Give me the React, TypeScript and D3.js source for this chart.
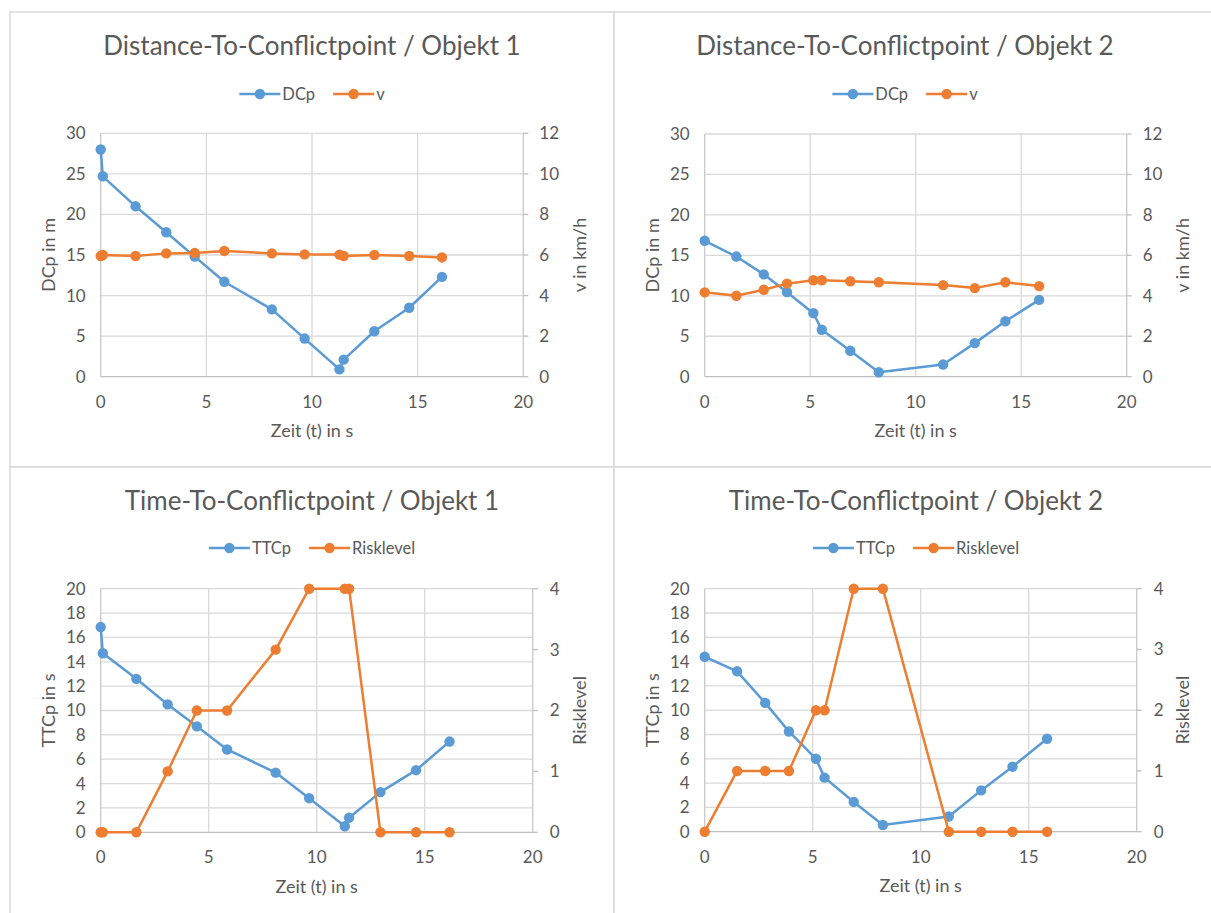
import React, { useEffect, useRef } from 'react';
import * as d3 from 'd3';

// Objekt 1
const time1 = [0, 0.1, 1.65, 3.1, 4.45, 5.85, 8.1, 9.65, 11.3, 11.5, 12.95, 14.6, 16.15];
const dcp1 = [28.0, 24.7, 21.0, 17.8, 14.8, 11.7, 8.3, 4.7, 0.9, 2.1, 5.6, 8.5, 12.3];
const speed1 = [5.95, 6.0, 5.95, 6.08, 6.1, 6.2, 6.08, 6.03, 6.02, 5.95, 6.0, 5.95, 5.88];
const ttcp1 = [16.85, 14.7, 12.6, 10.5, 8.7, 6.8, 4.9, 2.8, 0.5, 1.2, 3.3, 5.1, 7.45];
const risk1 = [0, 0, 0, 1, 2, 2, 3, 4, 4, 4, 0, 0, 0];

// Objekt 2
const time2 = [0, 1.5, 2.8, 3.9, 5.15, 5.55, 6.9, 8.25, 11.3, 12.8, 14.25, 15.85];
const dcp2 = [16.8, 14.85, 12.65, 10.45, 7.85, 5.8, 3.2, 0.55, 1.5, 4.15, 6.85, 9.5];
const speed2 = [4.17, 4.0, 4.3, 4.6, 4.77, 4.77, 4.72, 4.67, 4.53, 4.38, 4.67, 4.48];
const ttcp2 = [14.4, 13.2, 10.6, 8.25, 6.0, 4.45, 2.45, 0.55, 1.25, 3.4, 5.35, 7.65];
const risk2 = [0, 1, 1, 1, 2, 2, 4, 4, 0, 0, 0, 0];

// ticks
const xTicks = [0, 5, 10, 15, 20];
const dcpTicks = [0, 5, 10, 15, 20, 25, 30];
const speedTicks = [0, 2, 4, 6, 8, 10, 12];
const ttcpTicks = [0, 2, 4, 6, 8, 10, 12, 14, 16, 18, 20];
const riskTicks = [0, 1, 2, 3, 4];

const BLUE = '#5b9bd5';
const ORANGE = '#ed7d31';
const GRID = '#d9d9d9';
const TEXT = '#595959';
const FONT = 'Lato, "Open Sans", sans-serif';

function drawPanel(svg, p) {
  const g = svg.append('g');

  // frame
  g.append('rect')
    .attr('x', p.box[0]).attr('y', p.box[1])
    .attr('width', p.box[2]).attr('height', p.box[3])
    .attr('fill', '#fff').attr('stroke', GRID).attr('stroke-width', 1.5);

  const x = d3.scaleLinear().domain([0, 20]).range([p.left, p.right]);
  const yL = d3.scaleLinear().domain([0, d3.max(p.leftTicks)]).range([p.bottom, p.top]);
  const yR = d3.scaleLinear().domain([0, d3.max(p.rightTicks)]).range([p.bottom, p.top]);

  // gridlines
  g.append('g').selectAll('line.h').data(p.leftTicks.slice(1)).enter().append('line')
    .attr('x1', p.left).attr('x2', p.right)
    .attr('y1', d => yL(d)).attr('y2', d => yL(d))
    .attr('stroke', GRID).attr('stroke-width', 1.3);
  g.append('g').selectAll('line.v').data(xTicks).enter().append('line')
    .attr('x1', d => x(d)).attr('x2', d => x(d))
    .attr('y1', p.top).attr('y2', p.bottom)
    .attr('stroke', d => (d === 0 || d === 20 ? '#c8c8c8' : GRID)).attr('stroke-width', 1.3);

  // x axis line
  g.append('line')
    .attr('x1', p.left).attr('x2', p.right)
    .attr('y1', p.bottom).attr('y2', p.bottom)
    .attr('stroke', '#bfbfbf').attr('stroke-width', 1.3);

  // right axis ticks
  g.append('g').selectAll('line').data(p.rightTicks).enter().append('line')
    .attr('x1', p.right).attr('x2', p.right + 5)
    .attr('y1', d => yR(d)).attr('y2', d => yR(d))
    .attr('stroke', '#bfbfbf').attr('stroke-width', 1.3);

  const txt = (sel) => sel.attr('fill', TEXT).attr('font-family', FONT);

  // tick labels
  g.append('g').selectAll('text').data(p.leftTicks).enter().append('text')
    .call(txt)
    .attr('x', p.left - 15).attr('y', d => yL(d)).attr('dy', '0.35em')
    .attr('text-anchor', 'end').attr('font-size', 17)
    .text(d => d);
  g.append('g').selectAll('text').data(p.rightTicks).enter().append('text')
    .call(txt)
    .attr('x', p.right + p.rightGap).attr('y', d => yR(d)).attr('dy', '0.35em')
    .attr('text-anchor', 'start').attr('font-size', 17)
    .text(d => d);
  g.append('g').selectAll('text').data(xTicks).enter().append('text')
    .call(txt)
    .attr('x', d => x(d)).attr('y', p.bottom + 25).attr('dy', '0.35em')
    .attr('text-anchor', 'middle').attr('font-size', 17)
    .text(d => d);

  // axis titles
  g.append('text').call(txt)
    .attr('x', (p.left + p.right) / 2).attr('y', p.bottom + 54).attr('dy', '0.35em')
    .attr('text-anchor', 'middle').attr('font-size', 18)
    .text('Zeit (t) in s');
  g.append('text').call(txt)
    .attr('transform', `translate(${p.leftTitleX},${(p.top + p.bottom) / 2}) rotate(-90)`)
    .attr('dy', '0.35em').attr('text-anchor', 'middle').attr('font-size', 18)
    .text(p.leftLabel);
  g.append('text').call(txt)
    .attr('transform', `translate(${p.rightTitleX},${(p.top + p.bottom) / 2}) rotate(-90)`)
    .attr('dy', '0.35em').attr('text-anchor', 'middle').attr('font-size', 18)
    .text(p.rightLabel);

  // title
  g.append('text').call(txt)
    .attr('x', p.cx).attr('y', p.titleY).attr('dy', '0.35em')
    .attr('text-anchor', 'middle').attr('font-size', 26)
    .text(p.title);

  // legend
  const leg = g.append('g');
  let lx = 0;
  const items = [
    { name: p.names[0], color: BLUE },
    { name: p.names[1], color: ORANGE },
  ];
  items.forEach((it, i) => {
    const ig = leg.append('g').attr('transform', `translate(${lx},0)`);
    ig.append('line').attr('x1', 0).attr('x2', 41).attr('y1', 0).attr('y2', 0)
      .attr('stroke', it.color).attr('stroke-width', 2.5);
    ig.append('circle').attr('cx', 20.5).attr('cy', 0).attr('r', 5.2).attr('fill', it.color);
    const t = ig.append('text').call(txt)
      .attr('x', 43).attr('dy', '0.35em').attr('font-size', 16.5).text(it.name);
    const w = (t.node() as SVGTextElement).getComputedTextLength();
    lx += 43 + w + (i === 0 ? 18 : 0);
  });
  leg.attr('transform', `translate(${p.cx - lx / 2},${p.legendY})`);

  // series
  const series = [
    { vals: p.s1, y: yL, color: BLUE },
    { vals: p.s2, y: yR, color: ORANGE },
  ];
  series.forEach(s => {
    const pts = p.time.map((t, i) => [t, s.vals[i]]);
    const line = d3.line().x(d => x(d[0])).y(d => s.y(d[1]));
    g.append('path').datum(pts).attr('d', line)
      .attr('fill', 'none').attr('stroke', s.color).attr('stroke-width', 2.5)
      .attr('stroke-linejoin', 'round');
    g.append('g').selectAll('circle').data(pts).enter().append('circle')
      .attr('cx', d => x(d[0])).attr('cy', d => s.y(d[1])).attr('r', 5.2)
      .attr('fill', s.color);
  });
}

const panels = [
  {
    box: [10, 12, 604, 455], cx: 312, titleY: 46, legendY: 94,
    left: 100.7, right: 523.3, top: 133.3, bottom: 376.7, rightGap: 16,
    leftTitleX: 49, rightTitleX: 580,
    title: 'Distance-To-Conflictpoint / Objekt 1', names: ['DCp', 'v'],
    leftLabel: 'DCp in m', rightLabel: 'v in km/h',
    leftTicks: dcpTicks, rightTicks: speedTicks,
    time: time1, s1: dcp1, s2: speed1,
  },
  {
    box: [614, 12, 610, 455], cx: 905, titleY: 46, legendY: 94,
    left: 704.7, right: 1126.7, top: 134, bottom: 376.7, rightGap: 16,
    leftTitleX: 653, rightTitleX: 1183,
    title: 'Distance-To-Conflictpoint / Objekt 2', names: ['DCp', 'v'],
    leftLabel: 'DCp in m', rightLabel: 'v in km/h',
    leftTicks: dcpTicks, rightTicks: speedTicks,
    time: time2, s1: dcp2, s2: speed2,
  },
  {
    box: [10, 467, 604, 460], cx: 312, titleY: 501, legendY: 548,
    left: 100.7, right: 532.7, top: 588.7, bottom: 832.3, rightGap: 17,
    leftTitleX: 49, rightTitleX: 580,
    title: 'Time-To-Conflictpoint / Objekt 1', names: ['TTCp', 'Risklevel'],
    leftLabel: 'TTCp in s', rightLabel: 'Risklevel',
    leftTicks: ttcpTicks, rightTicks: riskTicks,
    time: time1, s1: ttcp1, s2: risk1,
  },
  {
    box: [614, 467, 610, 460], cx: 916, titleY: 501, legendY: 548,
    left: 704.7, right: 1136.7, top: 588.7, bottom: 831.7, rightGap: 17,
    leftTitleX: 653, rightTitleX: 1183,
    title: 'Time-To-Conflictpoint / Objekt 2', names: ['TTCp', 'Risklevel'],
    leftLabel: 'TTCp in s', rightLabel: 'Risklevel',
    leftTicks: ttcpTicks, rightTicks: riskTicks,
    time: time2, s1: ttcp2, s2: risk2,
  },
];

export default function App() {
  const ref = useRef<SVGSVGElement>(null);

  useEffect(() => {
    const svg = d3.select(ref.current);
    svg.selectAll('*').remove();
    svg.append('rect').attr('width', 1211).attr('height', 913).attr('fill', '#fff');
    panels.forEach(p => drawPanel(svg, p));
  }, []);

  return (
    <svg
      ref={ref}
      width={1211}
      height={913}
      style={{ position: 'absolute', left: 0, top: 0, display: 'block' }}
    />
  );
}
